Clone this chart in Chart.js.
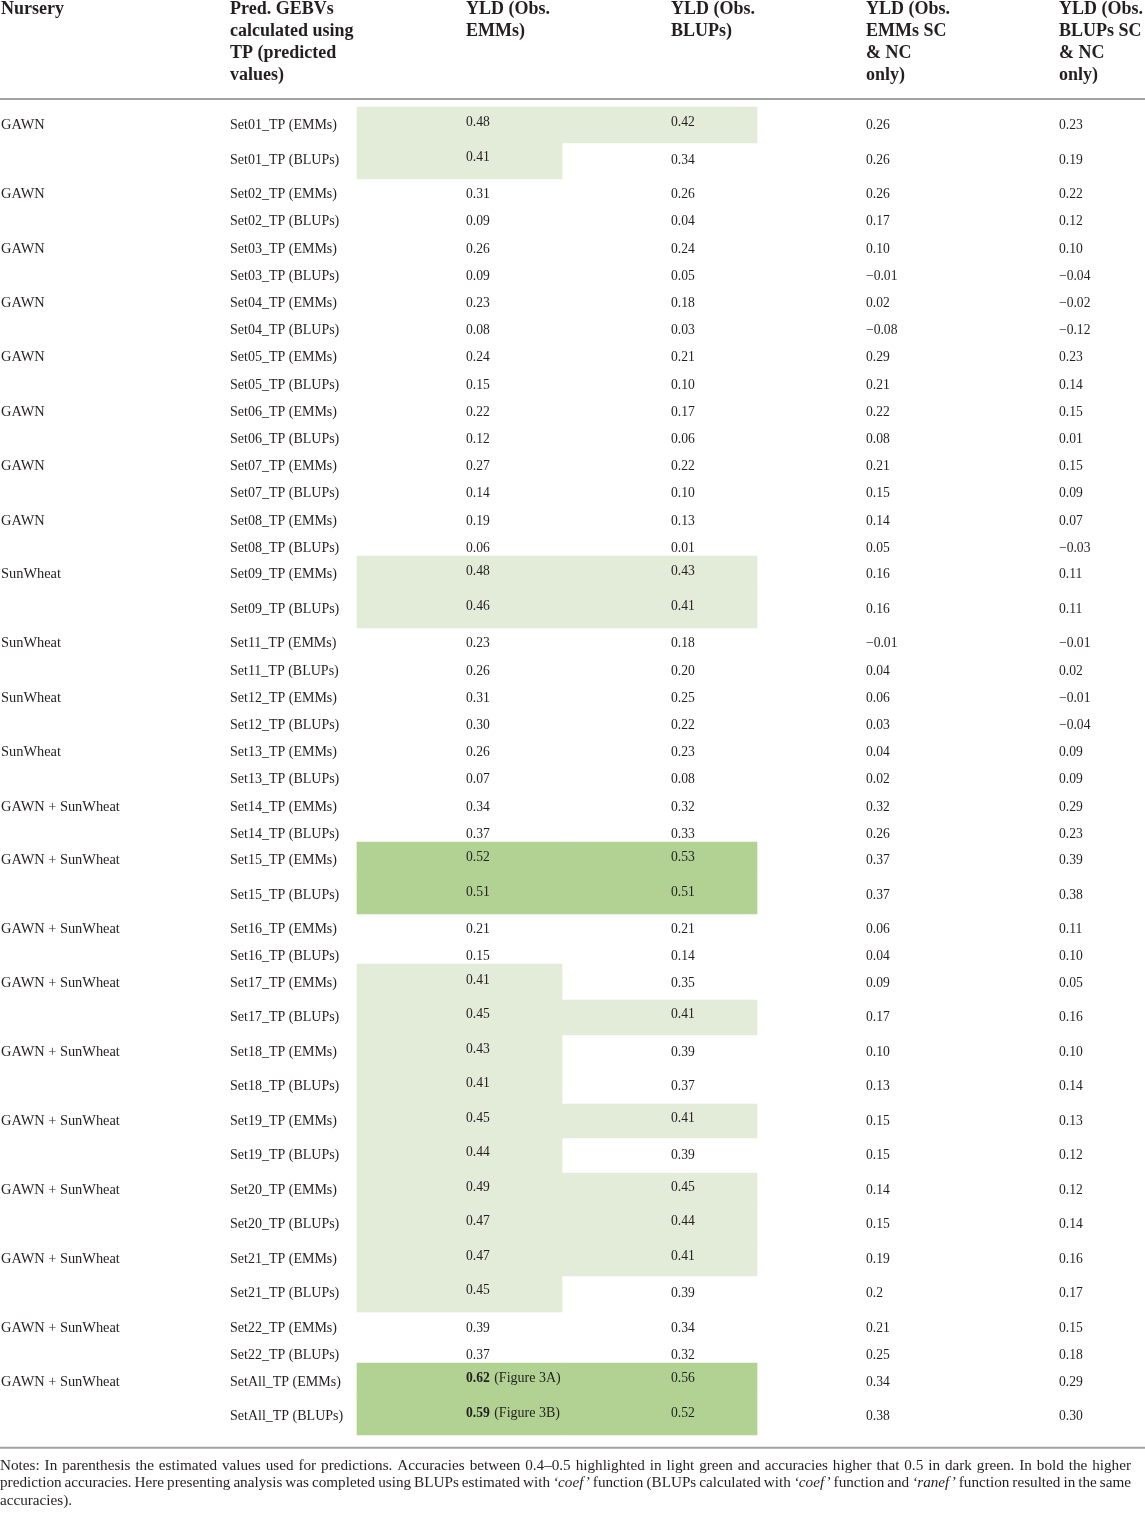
<!DOCTYPE html>
<html>
<head>
<meta charset="utf-8">
<script src="https://cdn.jsdelivr.net/npm/chart.js@4.4.1/dist/chart.umd.min.js"></script>
<style>
  html, body { margin: 0; padding: 0; background: #fff; }
  #table { display: block; }
</style>
</head>
<body>
<canvas id="table" width="1145" height="1515"></canvas>
<script>
// table content, one entry per training set (each set has an EMMs row and a BLUPs row)
const sets = ['Set01', 'Set02', 'Set03', 'Set04', 'Set05', 'Set06', 'Set07', 'Set08', 'Set09',
  'Set11', 'Set12', 'Set13', 'Set14', 'Set15', 'Set16', 'Set17', 'Set18', 'Set19', 'Set20',
  'Set21', 'Set22', 'SetAll'];
const nurseries = ['GAWN', 'GAWN', 'GAWN', 'GAWN', 'GAWN', 'GAWN', 'GAWN', 'GAWN',
  'SunWheat', 'SunWheat', 'SunWheat', 'SunWheat',
  'GAWN + SunWheat', 'GAWN + SunWheat', 'GAWN + SunWheat', 'GAWN + SunWheat', 'GAWN + SunWheat',
  'GAWN + SunWheat', 'GAWN + SunWheat', 'GAWN + SunWheat', 'GAWN + SunWheat', 'GAWN + SunWheat'];
const predTypes = ['EMMs', 'BLUPs'];

// accuracies, row order: SetXX EMMs, SetXX BLUPs, ...
const yldObsEmms = [
  '0.48', '0.41', '0.31', '0.09', '0.26', '0.09', '0.23', '0.08', '0.24', '0.15', '0.22', '0.12',
  '0.27', '0.14', '0.19', '0.06', '0.48', '0.46', '0.23', '0.26', '0.31', '0.30', '0.26', '0.07',
  '0.34', '0.37', '0.52', '0.51', '0.21', '0.15', '0.41', '0.45', '0.43', '0.41', '0.45', '0.44',
  '0.49', '0.47', '0.47', '0.45', '0.39', '0.37', '0.62', '0.59'];
const yldObsBlups = [
  '0.42', '0.34', '0.26', '0.04', '0.24', '0.05', '0.18', '0.03', '0.21', '0.10', '0.17', '0.06',
  '0.22', '0.10', '0.13', '0.01', '0.43', '0.41', '0.18', '0.20', '0.25', '0.22', '0.23', '0.08',
  '0.32', '0.33', '0.53', '0.51', '0.21', '0.14', '0.35', '0.41', '0.39', '0.37', '0.41', '0.39',
  '0.45', '0.44', '0.41', '0.39', '0.34', '0.32', '0.56', '0.52'];
const yldScNcEmms = [
  '0.26', '0.26', '0.26', '0.17', '0.10', '−0.01', '0.02', '−0.08', '0.29', '0.21', '0.22', '0.08',
  '0.21', '0.15', '0.14', '0.05', '0.16', '0.16', '−0.01', '0.04', '0.06', '0.03', '0.04', '0.02',
  '0.32', '0.26', '0.37', '0.37', '0.06', '0.04', '0.09', '0.17', '0.10', '0.13', '0.15', '0.15',
  '0.14', '0.15', '0.19', '0.2', '0.21', '0.25', '0.34', '0.38'];
const yldScNcBlups = [
  '0.23', '0.19', '0.22', '0.12', '0.10', '−0.04', '−0.02', '−0.12', '0.23', '0.14', '0.15', '0.01',
  '0.15', '0.09', '0.07', '−0.03', '0.11', '0.11', '−0.01', '0.02', '−0.01', '−0.04', '0.09', '0.09',
  '0.29', '0.23', '0.39', '0.38', '0.11', '0.10', '0.05', '0.16', '0.10', '0.14', '0.13', '0.12',
  '0.12', '0.14', '0.16', '0.17', '0.15', '0.18', '0.29', '0.30'];
const figureRefs = { SetAll: ['(Figure 3A)', '(Figure 3B)'] };

const headers = [
  ['Nursery'],
  ['Pred. GEBVs', 'calculated using', 'TP (predicted', 'values)'],
  ['YLD (Obs.', 'EMMs)'],
  ['YLD (Obs.', 'BLUPs)'],
  ['YLD (Obs.', 'EMMs SC', '& NC', 'only)'],
  ['YLD (Obs.', 'BLUPs SC', '& NC', 'only)']
];

const notes = [
  [{ t: 'Notes: In parenthesis the estimated values used for predictions. Accuracies between 0.4–0.5 highlighted in light green and accuracies higher that 0.5 in dark green. In bold the higher' }],
  [{ t: 'prediction accuracies. Here presenting analysis was completed using BLUPs estimated with' },
    { t: '‘coef’', i: true }, { t: 'function (BLUPs calculated with' }, { t: '‘coef’', i: true },
    { t: 'function and' }, { t: '‘ranef’', i: true }, { t: 'function resulted in the same' }],
  [{ t: 'accuracies).' }]
];

// layout
const W = 1145;
const H = 1515;
const TEXT_X = [1, 230, 466, 671, 866, 1059];
const CELL_EDGES = [[357, 562], [562, 757], [757, 962], [962, 1145]];
const FIRST_ROW_TOP = 106.7;
const ROW_H = 27.2;
const PRE_TALL_H = 23.5;
const TALL_H = 34.5;
const EDGE_PAD = 1.5;
const HEADER_RULE_Y = 99;
const NOTES_RULE_Y = 1447.7;
const NOTES_FIRST_BASELINE = 1469.6;
const NOTES_LINE_H = 17.7;
const NOTES_RIGHT = 1131;
const TEXT = '#231f20';
const LIGHT = '#e3ebd9';
const DARK = '#b1d293';
const SERIF = '"Liberation Serif", "Times New Roman", serif';

const valueColumns = [yldObsEmms, yldObsBlups, yldScNcEmms, yldScNcBlups];
const toNumber = (s) => parseFloat(s.replace('−', '-'));
const level = (s) => {
  const v = toNumber(s);
  if (v > 0.5) return 2;
  if (v >= 0.4) return 1;
  return 0;
};

const rows = [];
sets.forEach((set, si) => {
  predTypes.forEach((type, ti) => {
    const idx = si * 2 + ti;
    const refs = figureRefs[set];
    rows.push({
      nursery: ti === 0 ? nurseries[si] : '',
      label: `${set}_TP (${type})`,
      cells: valueColumns.map((col) => col[idx]),
      ref: refs ? refs[ti] : ''
    });
  });
});

// rows holding a highlighted accuracy get taller, like in the printed table
const tall = rows.map((r) => r.cells.some((c) => level(c) > 0));
let cursor = FIRST_ROW_TOP;
rows.forEach((r, i) => {
  const prevTall = i > 0 && tall[i - 1];
  const nextTall = i < rows.length - 1 && tall[i + 1];
  r.tall = tall[i];
  r.padTop = 0;
  if (r.tall) {
    r.padTop = prevTall ? 0 : EDGE_PAD;
    r.h = TALL_H + r.padTop + (nextTall ? 0 : EDGE_PAD);
  } else {
    r.h = nextTall ? PRE_TALL_H : ROW_H;
  }
  r.top = cursor;
  cursor += r.h;
});

const fills = ['rgba(0,0,0,0)', LIGHT, DARK];
const datasets = CELL_EDGES.map((edge, c) => ({
  label: headers[c + 2].join(' '),
  data: rows.map((r) => ({ x: (edge[0] + edge[1]) / 2, y: [Math.round(r.top), Math.round(r.top + r.h)] })),
  backgroundColor: (ctx) => fills[level(rows[ctx.dataIndex].cells[c])],
  barThickness: edge[1] - edge[0],
  borderWidth: 0,
  grouped: false
}));

const tableText = {
  id: 'tableText',
  afterDatasetsDraw(chart) {
    const { ctx, scales: { x, y } } = chart;
    ctx.save();
    ctx.fillStyle = TEXT;
    ctx.textBaseline = 'alphabetic';
    ctx.textAlign = 'left';

    // header
    ctx.font = `bold 18px ${SERIF}`;
    headers.forEach((lines, c) => {
      lines.forEach((line, li) => {
        ctx.fillText(line, x.getPixelForValue(TEXT_X[c]), y.getPixelForValue(14.4 + li * 21.7));
      });
    });

    // rules
    ctx.strokeStyle = '#a2a2a2';
    ctx.lineWidth = 2;
    [HEADER_RULE_Y, NOTES_RULE_Y].forEach((ry) => {
      ctx.beginPath();
      ctx.moveTo(x.getPixelForValue(0), y.getPixelForValue(ry));
      ctx.lineTo(x.getPixelForValue(W), y.getPixelForValue(ry));
      ctx.stroke();
    });

    // body
    const nurserySize = 14.4;
    const labelSize = 14;
    const valueSize = 13.6;
    const shift = 13.5 * 0.34;
    rows.forEach((r) => {
      const plainY = r.tall ? r.top + r.padTop + 16.5 : r.top + 15;
      const markY = r.top + r.padTop + 13.3;
      if (r.nursery) {
        ctx.font = `${nurserySize}px ${SERIF}`;
        ctx.fillText(r.nursery, x.getPixelForValue(TEXT_X[0]), y.getPixelForValue(plainY + shift));
      }
      ctx.font = `${labelSize}px ${SERIF}`;
      ctx.fillText(r.label, x.getPixelForValue(TEXT_X[1]), y.getPixelForValue(plainY + shift));
      r.cells.forEach((cell, c) => {
        const cy = level(cell) > 0 ? markY : plainY;
        const px = x.getPixelForValue(TEXT_X[c + 2]);
        const py = y.getPixelForValue(cy + shift);
        if (c === 0 && r.ref) {
          ctx.font = `bold ${valueSize}px ${SERIF}`;
          ctx.fillText(cell, px, py);
          const wBold = ctx.measureText(cell + ' ').width;
          ctx.font = `${labelSize}px ${SERIF}`;
          ctx.fillText(r.ref, px + wBold + 1, py);
        } else {
          ctx.font = `${valueSize}px ${SERIF}`;
          ctx.fillText(cell, px, py);
        }
      });
    });

    // notes, justified like the printed footnote
    const noteSize = 15.2;
    const fontFor = (it) => `${it ? 'italic ' : ''}${noteSize}px ${SERIF}`;
    const left = x.getPixelForValue(0);
    const right = x.getPixelForValue(NOTES_RIGHT);
    notes.forEach((segs, li) => {
      const words = [];
      segs.forEach((s) => s.t.split(' ').forEach((w) => words.push({ w, i: !!s.i })));
      words.forEach((wd) => { ctx.font = fontFor(wd.i); wd.width = ctx.measureText(wd.w).width; });
      ctx.font = fontFor(false);
      const normalGap = ctx.measureText(' ').width;
      const total = words.reduce((a, wd) => a + wd.width, 0);
      const gap = li < notes.length - 1 ? (right - left - total) / (words.length - 1) : normalGap;
      let px = left;
      const py = y.getPixelForValue(NOTES_FIRST_BASELINE + li * NOTES_LINE_H);
      words.forEach((wd) => {
        ctx.font = fontFor(wd.i);
        ctx.fillText(wd.w, px, py);
        px += wd.width + gap;
      });
    });
    ctx.restore();
  }
};

const chart = new Chart(document.getElementById('table'), {
  type: 'bar',
  data: { datasets },
  options: {
    responsive: false,
    animation: false,
    devicePixelRatio: 1,
    layout: { padding: 0 },
    plugins: { legend: { display: false }, tooltip: { enabled: false } },
    scales: {
      x: { type: 'linear', min: 0, max: W, offset: false, display: false },
      y: { type: 'linear', min: 0, max: H, reverse: true, offset: false, display: false }
    }
  },
  plugins: [tableText]
});
</script>
</body>
</html>
